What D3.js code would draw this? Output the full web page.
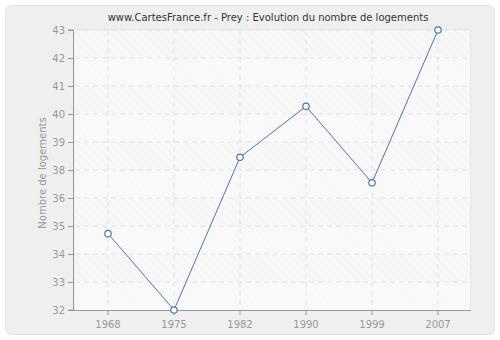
<!DOCTYPE html>
<html lang="fr">
<head>
    <meta charset="UTF-8">
    <title>Prey</title>
    <script src="https://cdn.jsdelivr.net/npm/d3@7"></script>
    <style>
        body { margin: 0; background: #fff; }
        text { font-family: "DejaVu Sans", Verdana, sans-serif; }
    </style>
</head>
<body>
<svg width="500" height="340" id="chart"></svg>
<script>
    // données
    const annees = ["1968", "1975", "1982", "1990", "1999", "2007"];
    const logements = [35, 32, 38, 40, 37, 43];
    const yTicks = d3.range(11).map(i => 32 + i * 1.1);

    const svg = d3.select("#chart");
    const m = {left: 75, right: 471, top: 30, bottom: 310};

    // cadre
    svg.append("rect")
        .attr("x", 5.5).attr("y", 5.5)
        .attr("width", 489).attr("height", 329)
        .attr("rx", 6)
        .attr("fill", "#efefef")
        .attr("stroke", "#e2e2e2");

    // hachures
    const defs = svg.append("defs");
    const pat = defs.append("pattern")
        .attr("id", "hatch")
        .attr("patternUnits", "userSpaceOnUse")
        .attr("width", 6).attr("height", 6)
        .attr("patternTransform", "rotate(-45)");
    pat.append("rect").attr("width", 6).attr("height", 6).attr("fill", "#f8f8f8");
    pat.append("line").attr("x1", 0).attr("y1", 0).attr("x2", 0).attr("y2", 6)
        .attr("stroke", "#ececec").attr("stroke-width", 1);

    const x = d3.scaleBand().domain(annees).range([m.left, m.right]);
    const y = d3.scaleLinear().domain([32, 43]).range([m.bottom, m.top]);

    svg.append("rect")
        .attr("x", m.left).attr("y", m.top)
        .attr("width", m.right - m.left).attr("height", m.bottom - m.top)
        .attr("fill", "url(#hatch)");

    // bandes alternées
    for (let i = 0; i < yTicks.length - 1; i += 2) {
        svg.append("rect")
            .attr("x", m.left)
            .attr("y", y(yTicks[i + 1]))
            .attr("width", m.right - m.left)
            .attr("height", y(yTicks[i]) - y(yTicks[i + 1]))
            .attr("fill", "#fafafa").attr("opacity", 0.6);
    }

    // grille
    const grid = svg.append("g")
        .attr("stroke", "#e2e2e2")
        .attr("stroke-dasharray", "5,4");
    yTicks.slice(1).forEach(t => {
        grid.append("line")
            .attr("x1", m.left).attr("x2", m.right)
            .attr("y1", y(t)).attr("y2", y(t));
    });
    annees.forEach(a => {
        const cx = x(a) + x.bandwidth() / 2;
        grid.append("line")
            .attr("x1", cx).attr("x2", cx)
            .attr("y1", m.top).attr("y2", m.bottom);
    });
    svg.append("line")
        .attr("x1", m.right - 0.5).attr("x2", m.right - 0.5)
        .attr("y1", m.top).attr("y2", m.bottom)
        .attr("stroke", "#e6e6e6");
    svg.append("line")
        .attr("x1", m.left).attr("x2", m.right)
        .attr("y1", m.top - 0.5).attr("y2", m.top - 0.5)
        .attr("stroke", "#e6e6e6");

    // axes
    const yAxis = svg.append("g")
        .attr("transform", `translate(${m.left - 2},0)`)
        .call(d3.axisLeft(y).tickValues(yTicks).tickSize(5).tickFormat(d => Math.round(d)));
    const xAxis = svg.append("g")
        .attr("transform", `translate(0,${m.bottom})`)
        .call(d3.axisBottom(x).tickSize(5).tickPadding(6));
    [yAxis, xAxis].forEach(g => {
        g.select(".domain").attr("stroke", "#999").attr("stroke-width", 1);
        g.selectAll(".tick line").attr("stroke", "#999");
        g.selectAll(".tick text").attr("fill", "#999").style("font-size", "10px")
            .style("font-family", "\"DejaVu Sans\", Verdana, sans-serif");
    });
    xAxis.select(".domain").attr("d", `M${m.left - 2},0.5H${m.right}`);
    yAxis.select(".domain").attr("d", `M-5,${m.top}H0.5V${m.bottom}H-5`);

    // ligne
    const pts = annees.map((a, i) => [x(a) + x.bandwidth() / 2, y(logements[i])]);
    svg.append("path")
        .attr("d", d3.line()(pts))
        .attr("fill", "none")
        .attr("stroke", "#4a76a8")
        .attr("stroke-width", 1);
    svg.selectAll(".pt").data(pts).enter().append("circle")
        .attr("cx", d => d[0]).attr("cy", d => d[1])
        .attr("r", 3.2)
        .attr("fill", "#fff")
        .attr("stroke", "#4a76a8")
        .attr("stroke-width", 1.2);

    // titres
    svg.append("text")
        .attr("x", 268).attr("y", 21)
        .attr("text-anchor", "middle")
        .style("font-size", "10px")
        .attr("fill", "#333")
        .text("www.CartesFrance.fr - Prey : Evolution du nombre de logements");
    svg.append("text")
        .attr("transform", `translate(46,${(m.top + m.bottom) / 2 + 3}) rotate(-90)`)
        .attr("text-anchor", "middle")
        .style("font-size", "10px")
        .attr("fill", "#999")
        .text("Nombre de logements");
</script>
</body>
</html>
